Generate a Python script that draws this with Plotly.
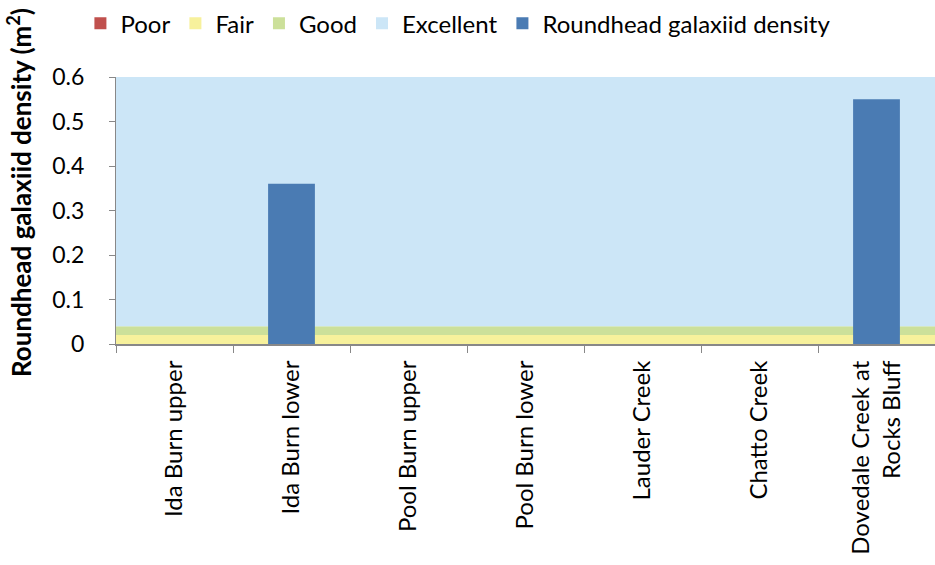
import plotly.graph_objects as go

sites = ["Ida Burn upper", "Ida Burn lower", "Pool Burn upper", "Pool Burn lower",
         "Lauder Creek", "Chatto Creek", "Dovedale Creek at<br>Rocks Bluff"]
poor = [0, 0, 0, 0, 0, 0, 0]
fair = [0.02, 0.02, 0.02, 0.02, 0.02, 0.02, 0.02]
good = [0.02, 0.02, 0.02, 0.02, 0.02, 0.02, 0.02]
excellent = [0.56, 0.56, 0.56, 0.56, 0.56, 0.56, 0.56]
density = [None, 0.36, None, None, None, None, 0.55]

FONT = "Lato"
fig = go.Figure()

bands = [("Poor", poor, "#C0504D"), ("Fair", fair, "#F7F19C"),
         ("Good", good, "#CCE09A"), ("Excellent", excellent, "#CCE6F7")]
base = [0] * len(sites)
for name, vals, col in bands:
    fig.add_trace(go.Bar(x=sites, y=vals, base=list(base), name=name, width=1,
                         marker=dict(color=col, line=dict(width=0)), hoverinfo="skip"))
    base = [b + v for b, v in zip(base, vals)]

fig.add_trace(go.Bar(x=sites, y=density, name="Roundhead galaxiid density", width=0.4,
                     marker=dict(color="#4A7BB3", line=dict(width=0))))

fig.update_layout(
    width=935, height=565,
    margin=dict(l=116, r=0, t=77, b=221),
    barmode="overlay",
    plot_bgcolor="white", paper_bgcolor="white",
    font=dict(family=FONT, size=24, color="black"),
    legend=dict(orientation="h", x=0.086, xref="container", xanchor="left", y=0.998,
                yref="container", yanchor="top", font=dict(size=24), itemwidth=30,
                traceorder="normal"),
    xaxis=dict(tickangle=-90, showline=True, linecolor="#888888", linewidth=2,
               ticks="outside", tickcolor="#888888", ticklen=7, tickson="boundaries",
               tickfont=dict(size=24), ticklabelstandoff=5, range=[-0.5, 6.5],
               showgrid=False),
    yaxis=dict(range=[0, 0.6], dtick=0.1, showline=True, linecolor="#888888", linewidth=1,
               ticks="outside", tickcolor="#888888", ticklen=6, showgrid=False, zeroline=False,
               tickfont=dict(size=23), ticklabelstandoff=20, tickformat="~g"),
    annotations=[dict(text="<b>Roundhead galaxiid density (m<sup>2</sup>)</b>", textangle=-90,
                      xref="paper", yref="paper", x=-0.117, y=0.566, xanchor="center",
                      yanchor="middle", showarrow=False, font=dict(size=26))],
)

fig.write_html("out.html")
